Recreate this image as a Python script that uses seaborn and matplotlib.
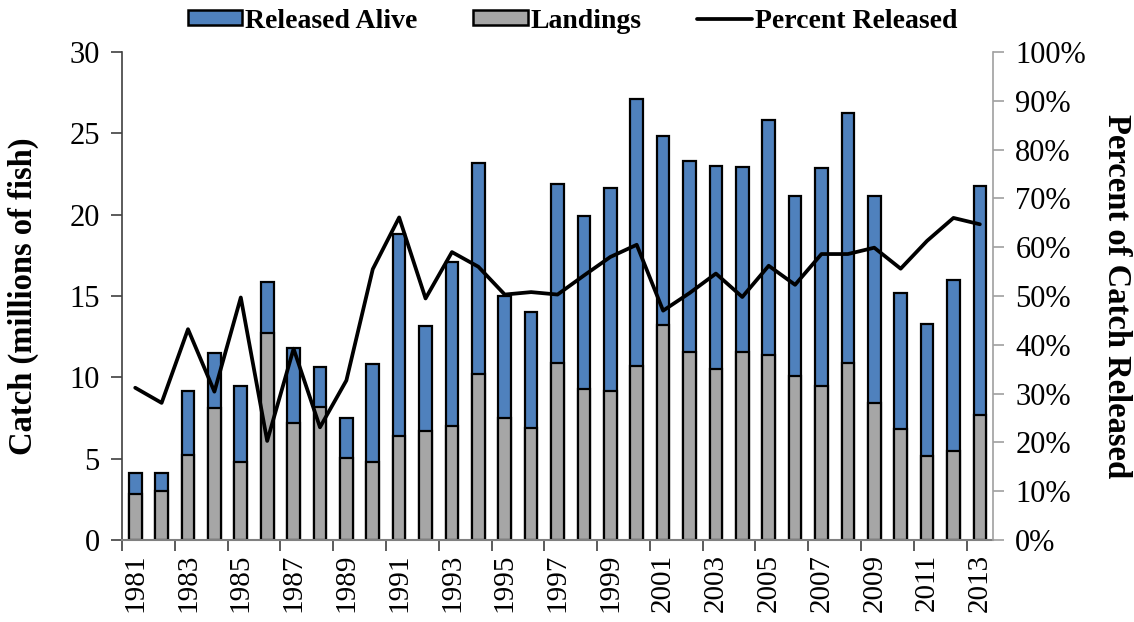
import numpy as np
import matplotlib
matplotlib.use('Agg')
import matplotlib.pyplot as plt
from matplotlib.patches import Patch
from matplotlib.lines import Line2D
from matplotlib.ticker import FuncFormatter
import seaborn as sns

# ─────────────────────────────────────────────
# DATA
# ─────────────────────────────────────────────
years = list(range(1981, 2014))

# landings (millions of fish)
landings = [2.85, 3.0, 5.2, 8.1, 4.8, 12.7, 7.2, 8.2, 5.05, 4.8, 6.4,
            6.7, 7.0, 10.2, 7.5, 6.9, 10.9, 9.3, 9.15, 10.7, 13.2,
            11.55, 10.5, 11.55, 11.35, 10.1, 9.45, 10.9, 8.45, 6.8, 5.15,
            5.45, 7.7]

# released alive (millions of fish)
released = [1.25, 1.1, 3.95, 3.4, 4.65, 3.15, 4.6, 2.45, 2.45, 6.0, 12.4,
            6.45, 10.1, 13.0, 7.5, 7.1, 11.0, 10.6, 12.5, 16.4, 11.65,
            11.75, 12.5, 11.4, 14.5, 11.05, 13.4, 15.35, 12.7, 8.4, 8.1,
            10.55, 14.05]

# percent of catch released
pct_released = [31.2, 28.1, 43.2, 30.4, 49.7, 20.3, 39.2, 23.1, 32.7, 55.5, 66.1,
                49.5, 59.0, 56.0, 50.3, 50.8, 50.3, 54.2, 58.0, 60.5, 47.0,
                50.6, 54.6, 49.8, 56.2, 52.3, 58.6, 58.6, 59.9, 55.6, 61.3,
                66.0, 64.7]

BLUE = '#4F81BD'
GRAY = '#A6A6A6'

n = len(years)
total = np.array(landings) + np.array(released)
year_labels = [str(y) for y in years]

# ─────────────────────────────────────────────
# STYLE
# ─────────────────────────────────────────────
sns.set_theme(style="white")
plt.rcParams['font.family'] = ['Liberation Serif', 'DejaVu Serif']
plt.rcParams['text.color'] = 'black'
plt.rcParams['xtick.color'] = 'black'
plt.rcParams['ytick.color'] = 'black'
plt.rcParams['axes.labelcolor'] = 'black'

fig = plt.figure(figsize=(11.34, 6.22), dpi=100)
ax = fig.add_axes([0.1076, 0.1318, 0.7681, 0.7846])

# stacked bars: full catch in blue, landings drawn over it in gray
sns.barplot(x=year_labels, y=total, color=BLUE, saturation=1, width=0.48,
            edgecolor='black', linewidth=1.6, errorbar=None, ax=ax)
sns.barplot(x=year_labels, y=landings, color=GRAY, saturation=1, width=0.48,
            edgecolor='black', linewidth=1.6, errorbar=None, ax=ax)

ax.set_ylim(0, 30)
ax.set_yticks(range(0, 31, 5))
ax.set_xlim(-0.5, n - 0.5)
ax.set_xticks(range(0, n, 2))
ax.set_xticklabels(year_labels[::2], rotation=90)
ax.set_xticks(np.arange(-0.5, n - 1, 2), minor=True)
ax.tick_params(axis='x', which='major', length=0, pad=10, labelsize=21)
ax.tick_params(axis='x', which='minor', length=8, width=1.2, color='#404040', direction='out', bottom=True)
ax.tick_params(axis='y', length=8, width=1.2, color='#404040', direction='out', left=True,
               labelsize=22, pad=8)
ax.set_xlabel('')
ax.set_ylabel('Catch (millions of fish)', fontsize=23.5, fontweight='bold')
ax.yaxis.set_label_coords(-0.095, 0.5)
for s in ['top', 'right']:
    ax.spines[s].set_visible(False)
ax.spines['left'].set_color('#404040')
ax.spines['bottom'].set_color('#808080')
ax.spines['left'].set_linewidth(1.2)
ax.spines['bottom'].set_linewidth(1.5)

# percent released line on the secondary axis
ax2 = ax.twinx()
sns.lineplot(x=np.arange(n), y=pct_released, color='black', linewidth=2.7, ax=ax2)
ax2.set_ylim(0, 100)
ax2.set_yticks(range(0, 101, 10))
ax2.yaxis.set_major_formatter(FuncFormatter(lambda v, p: f'{v:.0f}%'))
ax2.tick_params(axis='y', length=8, width=1.2, color='#A0A0A0', labelcolor='black',
                direction='out', right=True, labelsize=22, pad=8)
ax2.set_ylabel('Percent of Catch Released', fontsize=23.5, fontweight='bold', rotation=270)
ax2.yaxis.set_label_coords(1.16, 0.5)
for s in ['top', 'left', 'bottom']:
    ax2.spines[s].set_visible(False)
ax2.spines['right'].set_color('#A0A0A0')
ax2.spines['right'].set_linewidth(1.2)
ax.set_xlim(-0.5, n - 0.5)

# legend across the top
handles = [Patch(facecolor=BLUE, edgecolor='black', linewidth=1.8, label='Released Alive'),
           Patch(facecolor=GRAY, edgecolor='black', linewidth=1.8, label='Landings'),
           Line2D([0], [0], color='black', linewidth=2.7, label='Percent Released')]
fig.legend(handles=handles, loc='center', bbox_to_anchor=(0.505, 0.966), ncol=3,
           frameon=False, prop={'weight': 'bold', 'size': 20}, handlelength=1.95,
           handleheight=0.47, handletextpad=0.12, columnspacing=2.0)

plt.savefig('out.png', dpi=100)
plt.close()
